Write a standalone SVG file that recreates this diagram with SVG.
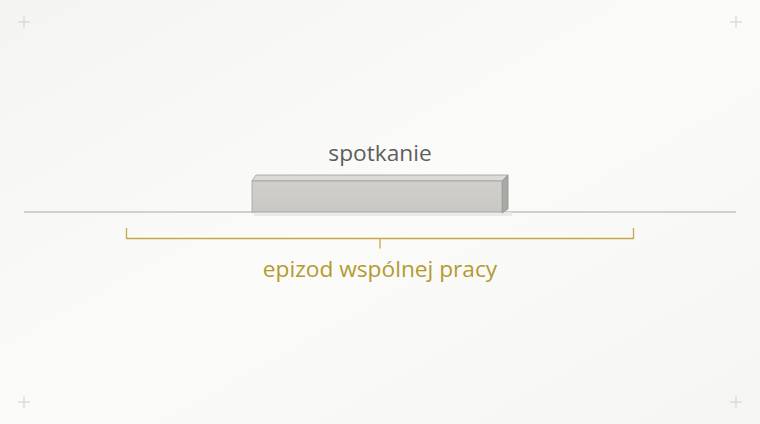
<svg xmlns="http://www.w3.org/2000/svg" width="760" height="424" viewBox="0 0 760 424">
<defs>
<linearGradient id="bg" x1="0" y1="0" x2="1" y2="1">
<stop offset="0" stop-color="#f4f4f3"/>
<stop offset="0.5" stop-color="#fbfbfa"/>
<stop offset="1" stop-color="#f5f5f4"/>
</linearGradient>
<linearGradient id="front" x1="0" y1="0" x2="0" y2="1">
<stop offset="0" stop-color="#d0cfcb"/>
<stop offset="1" stop-color="#c9c8c4"/>
</linearGradient>
<style>
.cross{stroke:#cfcfcf;stroke-width:1;fill:none}
.lbl{font-family:"Open Sans","Noto Sans","DejaVu Sans",sans-serif;font-size:22.7px;text-anchor:middle}
.brk{stroke:#c6a84a;stroke-width:1.3;fill:none}
</style>
</defs>
<rect width="760" height="424" fill="url(#bg)"/>
<g id="corners" class="cross">
<path d="M18 22h12M24 16v12"/>
<path d="M730 22h12M736 16v12"/>
<path d="M18 402h12M24 396v12"/>
<path d="M730 402h12M736 396v12"/>
</g>
<g id="connectors">
<line x1="24" y1="212" x2="736" y2="212" stroke="#a3a8a9" stroke-width="1.2"/>
<path class="brk" d="M126.5 228v10.5h507v-10.5M380 238.5v10"/>
</g>
<g id="node-spotkanie">
<rect x="254" y="212" width="258" height="4" fill="#e6e6e4" opacity="0.8"/>
<polygon points="252,181 256,175 508,175 502,181" fill="#dcdbd8" stroke="#9c9c98" stroke-width="0.8"/>
<polygon points="502,181 508,175 508,209 502,213" fill="#a9a9a5" stroke="#8f8f8b" stroke-width="0.8"/>
<rect x="252" y="181" width="250" height="31" fill="url(#front)" stroke="#a2a29e" stroke-width="0.8"/>
<text class="lbl" x="380" y="161" fill="#5e5e5e">spotkanie</text>
</g>
<g id="node-epizod">
<text class="lbl" x="380" y="277" fill="#b39a30">epizod wspólnej pracy</text>
</g>
</svg>
